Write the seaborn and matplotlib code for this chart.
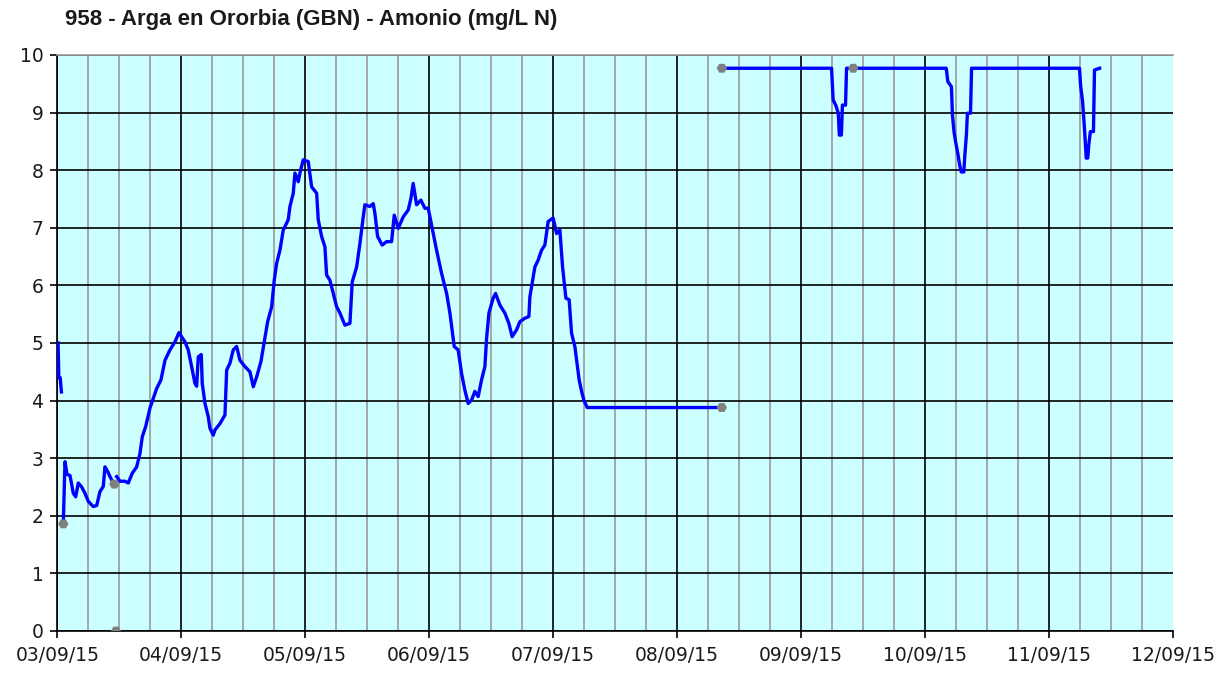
import numpy as np
import pandas as pd
import matplotlib
matplotlib.use("Agg")
import matplotlib.pyplot as plt
import seaborn as sns
from matplotlib.ticker import MultipleLocator

# ---------------- data (hours since 03/09/15 00:00, mg/L N) ----------------
title = "958 - Arga en Ororbia (GBN) - Amonio (mg/L N)"
day_labels = ["03/09/15", "04/09/15", "05/09/15", "06/09/15", "07/09/15",
              "08/09/15", "09/09/15", "10/09/15", "11/09/15", "12/09/15"]
y_ticks = [0, 1, 2, 3, 4, 5, 6, 7, 8, 9, 10]

seg1_h = [0.15, 0.3, 0.55, 0.8]
seg1_v = [5.0, 4.4, 4.4, 4.15]

seg2_h = [1.16, 1.49, 1.88, 2.46, 3.10, 3.56, 4.06, 4.72, 5.36, 6.0, 6.97,
          7.63, 8.26, 8.90, 9.23, 9.75, 10.2, 10.84, 11.03]
seg2_v = [1.86, 2.94, 2.72, 2.70, 2.39, 2.33, 2.57, 2.50, 2.39, 2.25, 2.16,
          2.18, 2.42, 2.51, 2.85, 2.77, 2.68, 2.57, 2.55]

seg3_h = [11.5, 12.14, 13.1, 13.74, 14.52, 15.37, 16.0, 16.45, 17.11, 17.94,
          18.58, 19.24, 20.07, 20.85, 21.81, 22.78, 23.55, 24.72, 25.35, 26.01,
          26.65, 26.98, 27.29, 27.87, 28.06, 28.59, 29.23, 29.55, 30.19, 30.52,
          31.49, 32.46, 32.79, 33.43, 34.06, 34.72, 35.36, 36.33, 37.30, 37.94,
          38.59, 39.43, 40.06, 40.72, 41.50, 42.0, 42.46, 43.10, 43.74, 44.71,
          45.04, 45.68, 46.01, 46.65, 46.97, 47.61, 48.58, 49.24, 50.21, 50.52,
          51.17, 51.81, 52.14, 52.78, 53.42, 54.08, 54.72, 55.68, 56.65, 57.10,
          57.95, 58.59, 59.23, 59.55, 60.52, 61.16, 61.49, 62.01, 62.90, 63.75,
          64.72, 65.23, 66.0, 66.97, 67.94, 68.46, 68.90, 69.56, 70.39, 71.17,
          71.81, 72.46, 73.43, 74.40, 75.37, 76.01, 76.84, 77.61, 78.27, 78.91,
          79.55, 80.21, 80.84, 81.48, 82.14, 82.78, 83.11, 83.56, 84.39, 84.85,
          85.68, 86.65, 87.43, 88.06, 88.92, 89.55, 90.52, 91.30, 91.49, 92.46,
          93.10, 93.75, 94.39, 95.03, 96.0, 96.66, 97.30, 97.82, 98.46, 99.10,
          99.56, 100.2, 100.53, 101.03, 101.50, 101.94, 102.58, 128.65]
seg3_v = [2.68, 2.60, 2.60, 2.57, 2.74, 2.85, 3.08, 3.37, 3.55, 3.87,
          4.04, 4.21, 4.36, 4.70, 4.88, 5.02, 5.18, 5.02, 4.88, 4.59,
          4.30, 4.25, 4.76, 4.80, 4.30, 3.95, 3.72, 3.52, 3.40, 3.49,
          3.60, 3.75, 4.53, 4.65, 4.88, 4.94, 4.70, 4.59, 4.50, 4.24,
          4.41, 4.68, 5.02, 5.37, 5.63, 6.09, 6.38, 6.61, 6.96, 7.14,
          7.37, 7.60, 7.95, 7.80, 7.95, 8.18, 8.15, 7.71, 7.60, 7.14,
          6.85, 6.67, 6.18, 6.09, 5.86, 5.63, 5.52, 5.31, 5.34, 6.06,
          6.32, 6.73, 7.19, 7.40, 7.37, 7.42, 7.25, 6.85, 6.70, 6.76,
          6.76, 7.22, 6.99, 7.19, 7.31, 7.51, 7.77, 7.40, 7.48, 7.34,
          7.34, 7.05, 6.61, 6.21, 5.86, 5.52, 4.94, 4.88, 4.47, 4.18,
          3.95, 4.01, 4.16, 4.07, 4.36, 4.59, 5.08, 5.52, 5.78, 5.86,
          5.66, 5.52, 5.34, 5.11, 5.23, 5.37, 5.43, 5.46, 5.80, 6.32,
          6.44, 6.61, 6.70, 7.11, 7.17, 6.90, 6.96, 6.32, 5.78, 5.75,
          5.17, 4.94, 4.71, 4.36, 4.16, 4.01, 3.88, 3.88]

seg4_h = [128.65, 149.9, 150.2, 150.7, 151.2, 151.4, 151.8, 152.0, 152.6, 152.8,
          154.1, 172.1, 172.4, 173.1, 173.3, 173.6, 173.9, 174.4, 174.7, 175.0,
          175.5, 175.7, 176.0, 176.2, 176.8, 177.0, 197.9, 198.1, 198.5, 198.9,
          199.2, 199.5, 199.7, 200.0, 200.6, 200.8, 201.8]
seg4_v = [9.77, 9.77, 9.22, 9.13, 8.99, 8.61, 8.61, 9.13, 9.13, 9.77,
          9.77, 9.77, 9.54, 9.45, 8.96, 8.67, 8.50, 8.26, 8.09, 7.97,
          7.97, 8.26, 8.61, 8.99, 8.99, 9.77, 9.77, 9.48, 9.19, 8.67,
          8.21, 8.21, 8.44, 8.67, 8.67, 9.74, 9.77]

marker_h = [1.16, 11.03, 11.36, 128.65, 128.65, 154.1]
marker_v = [1.86, 2.55, 0.0, 3.88, 9.77, 9.77]

# ---------------- build table ----------------
segments = [(seg1_h, seg1_v), (seg2_h, seg2_v), (seg3_h, seg3_v), (seg4_h, seg4_v)]
df = pd.concat([pd.DataFrame({"hours": h, "value": v, "segment": i})
                for i, (h, v) in enumerate(segments)], ignore_index=True)

# ---------------- figure ----------------
W, H = 1232, 673
fig = plt.figure(figsize=(W / 100, H / 100), dpi=100)
fig.patch.set_facecolor("white")
left, right, top, bottom = 57.3, 1173, 55, 631
ax = fig.add_axes([left / W, 1 - bottom / H, (right - left) / W, (bottom - top) / H])
ax.set_facecolor("#CCFFFF")

sns.lineplot(data=df, x="hours", y="value", units="segment", estimator=None,
             sort=False, color="#0000FF", linewidth=2.4, ax=ax, legend=False,
             zorder=3)
sns.scatterplot(x=marker_h, y=marker_v, marker="H", s=55, color="#808080",
                edgecolor="none", ax=ax, zorder=4, legend=False)

ax.set_xlim(0, 216)
ax.set_ylim(0, 10)
ax.set_xticks(np.arange(0, 24 * len(day_labels), 24))
ax.set_xticklabels(day_labels)
ax.xaxis.set_minor_locator(MultipleLocator(6))
ax.set_yticks(y_ticks)
ax.set_yticklabels([str(t) for t in y_ticks])
ax.set_xlabel("")
ax.set_ylabel("")

ax.set_axisbelow(True)
ax.grid(which="minor", axis="x", color="#A0A0A0", linewidth=1.3)
ax.grid(which="major", color="black", linewidth=1.2)
# no gridline on the right edge
ax.xaxis.get_major_ticks()[-1].gridline.set_visible(False)

for s in ["left", "bottom"]:
    ax.spines[s].set_color("black")
    ax.spines[s].set_linewidth(1.2)
ax.spines["top"].set_color("#A0A0A0")
ax.spines["top"].set_linewidth(1.2)
ax.spines["right"].set_visible(False)

ax.tick_params(which="major", length=5, width=1.2, color="black",
               labelsize=13.5, labelcolor="#1a1a1a")
ax.tick_params(axis="x", which="major", pad=6)
ax.tick_params(axis="y", which="major", pad=5)
ax.tick_params(which="minor", length=0)

fig.text(65 / W, 1 - 19 / H, title, fontsize=16, fontweight="bold",
         family=["Liberation Sans", "DejaVu Sans"], va="center", ha="left",
         color="#1a1a1a")

fig.savefig("out.png", dpi=100, facecolor="white")
